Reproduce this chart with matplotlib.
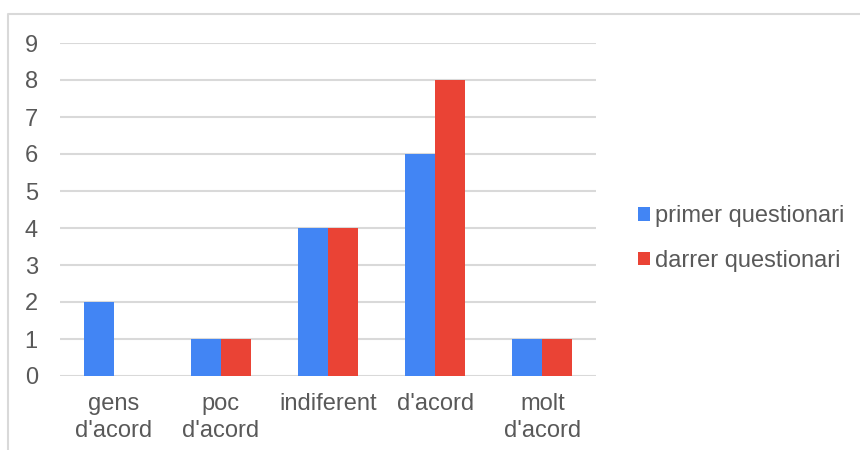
import matplotlib
matplotlib.use("Agg")
import matplotlib.pyplot as plt
import numpy as np
from matplotlib.patches import Patch
from matplotlib.lines import Line2D

categories = ["gens\nd'acord", "poc\nd'acord", "indiferent", "d'acord", "molt\nd'acord"]
primer = [2, 1, 4, 6, 1]
darrer = [0, 1, 4, 8, 1]
series_names = ["primer questionari", "darrer questionari"]
yticks = list(range(0, 10))

BLUE = "#4285F4"
RED = "#EA4335"
TXT = "#595959"
GRID = "#D9D9D9"

plt.rcParams['font.family'] = ['Liberation Sans', 'DejaVu Sans']

fig = plt.figure(figsize=(8.6, 4.5), dpi=100)
ax = fig.add_axes([60/860, 1-376/450, (596-60)/860, (376-43)/450])

x = np.arange(len(categories))
w = 0.28
ax.bar(x - w/2, primer, width=w, color=BLUE, zorder=3)
ax.bar(x + w/2, darrer, width=w, color=RED, zorder=3)

ax.set_xlim(-0.5, len(categories) - 0.5)
ax.set_ylim(0, 9)
ax.set_yticks(yticks)
ax.set_yticklabels([str(t) for t in yticks])
ax.set_xticks(x)
ax.set_xticklabels(categories)
for lab in ax.get_xticklabels():
    lab.set_linespacing(1.3)

ax.grid(axis='y', color=GRID, linewidth=1.5, zorder=0)
ax.set_axisbelow(True)
for s in ax.spines.values():
    s.set_visible(False)
ax.tick_params(axis='both', length=0, labelsize=17, colors=TXT)
ax.tick_params(axis='y', pad=16)
ax.tick_params(axis='x', pad=12)

handles = [Patch(facecolor=BLUE, edgecolor='none'), Patch(facecolor=RED, edgecolor='none')]
fig.legend(handles, series_names, loc='center left', bbox_to_anchor=(638/860, 1-238.5/450),
           frameon=False, fontsize=17, labelcolor=TXT, handlelength=0.5, handleheight=0.5,
           handletextpad=0.2, labelspacing=0.95, borderpad=0, borderaxespad=0)

fig.add_artist(Line2D([8/860, 8/860, 1.0], [0.0, 1-14/450, 1-14/450],
                      transform=fig.transFigure, color=GRID, linewidth=1.5))

fig.savefig("out.png", dpi=100)
